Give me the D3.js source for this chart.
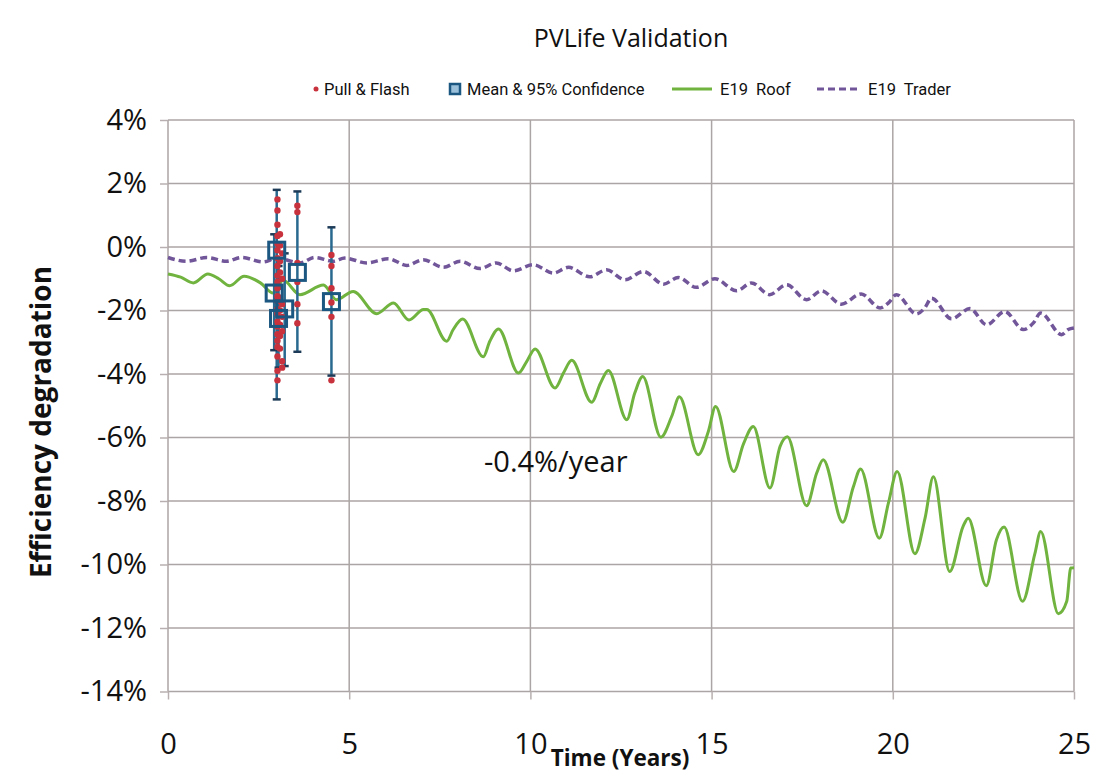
<!doctype html>
<html>
<head>
<meta charset="utf-8">
<title>PVLife Validation</title>
<script src="https://cdnjs.cloudflare.com/ajax/libs/d3/7.8.5/d3.min.js"></script>
<style>
  body { margin: 0; background: #fff; }
  svg { display: block; font-family: "Open Sans", "Noto Sans", sans-serif; }
  .grid line { stroke: #aca5a5; stroke-width: 1.5; }
  .axis path { display: none; }
  .axis line { stroke: #b8b0b0; stroke-width: 1.5; }
  .axis text { fill: #111; font-size: 29px; font-family: "Open Sans", "Noto Sans", sans-serif; }
  .legend text { font-family: Roboto, "Open Sans", sans-serif; font-size: 16.5px; fill: #111; }
</style>
</head>
<body>
<svg id="chart" width="1117" height="772"></svg>
<script>
// ---- data ----
var xTicks = [0, 5, 10, 15, 20, 25];
var yTicks = [4, 2, 0, -2, -4, -6, -8, -10, -12, -14];

// E19 Roof (green)
var roofT = [0, 0.35, 0.7, 1.1, 1.4, 1.7, 2.1, 2.55, 2.9, 3.18, 3.64, 4.29, 4.65, 5.11, 5.76, 6.22, 6.65, 7.05, 7.14,
  7.69, 7.87, 8.13, 8.7, 8.88, 9.12, 9.67, 9.9, 10.13, 10.68, 10.92, 11.14, 11.69, 11.93, 12.15, 12.66, 12.88, 13.1,
  13.6, 13.9, 14.11, 14.63, 14.91, 15.11, 15.61, 15.88, 16.15, 16.61, 16.89, 17.09, 17.62, 17.9, 18.08, 18.62, 18.91, 19.11,
  19.63, 19.88, 20.12, 20.61, 20.89, 21.12, 21.57, 21.94, 22.08, 22.58, 22.86, 23.07, 23.58, 23.92, 24.08, 24.57, 24.8, 24.91, 25];
var roofV = [-0.85, -0.95, -1.13, -0.85, -1.0, -1.22, -0.92, -1.13, -1.45, -1.05, -1.5, -1.2, -1.66, -1.4, -2.1, -1.76, -2.3, -1.97, -1.97,
  -2.97, -2.6, -2.27, -3.46, -2.97, -2.58, -3.97, -3.6, -3.21, -4.44, -3.95, -3.57, -4.89, -4.3, -3.89, -5.44, -4.6, -4.08,
  -5.99, -5.33, -4.72, -6.54, -5.81, -5.02, -7.07, -6.2, -5.65, -7.59, -6.28, -5.98, -8.15, -7.12, -6.7, -8.67, -7.56, -6.99,
  -9.17, -8.06, -7.07, -9.66, -8.54, -7.24, -10.22, -8.8, -8.54, -10.67, -9.22, -8.82, -11.16, -9.66, -8.96, -11.55, -11.16, -10.11, -10.1];

// E19 Trader (purple, dashed)
var traderT = [0, 0.51, 1.07, 1.62, 2.03, 2.63, 3.0, 3.64, 4.05, 4.56, 4.88, 5.48, 6.08, 6.59, 7.04, 7.6, 8.06, 8.61, 9.06, 9.53,
  10.08, 10.63, 11.05, 11.64, 12.1, 12.61, 13.12, 13.67, 14.08, 14.58, 15.09, 15.69, 16.1, 16.6, 17.07, 17.62, 18.03, 18.58,
  19.13, 19.65, 19.88, 20.1, 20.65, 20.88, 21.07, 21.62, 22.13, 22.59, 23.09, 23.6, 23.88, 24.08, 24.66, 24.84, 25];
var traderV = [-0.33, -0.45, -0.33, -0.45, -0.33, -0.47, -0.35, -0.5, -0.33, -0.45, -0.35, -0.5, -0.37, -0.58, -0.4, -0.64, -0.45, -0.68, -0.5, -0.75,
  -0.56, -0.82, -0.64, -0.94, -0.72, -1.03, -0.77, -1.17, -0.96, -1.27, -1.0, -1.38, -1.13, -1.5, -1.19, -1.66, -1.38, -1.8,
  -1.48, -1.92, -1.76, -1.5, -2.11, -1.92, -1.61, -2.26, -1.94, -2.45, -2.03, -2.6, -2.39, -2.08, -2.76, -2.6, -2.55];

// Pull & Flash measurements
var flashT = [3.02, 3.02, 3.02, 3.02, 3.02, 3.02, 3.02, 3.02, 3.02, 3.02, 3.02, 3.02, 3.02, 3.02, 3.02, 3.02, 3.02, 3.02, 3.02, 3.02, 3.02, 3.02, 3.02,
  3.09, 3.09, 3.09, 3.09, 3.09, 3.09, 3.09, 3.09, 3.09, 3.09,
  3.15, 3.15, 3.15, 3.15, 3.15, 3.15, 3.15,
  3.57, 3.57, 3.57, 3.57, 3.57, 3.57,
  4.51, 4.51, 4.51, 4.51, 4.51, 4.51];
var flashV = [1.5, 1.15, 0.7, 0.35, 0.1, -0.1, -0.35, -0.6, -0.9, -1.1, -1.3, -1.55, -1.7, -1.95, -2.1, -2.35, -2.5, -2.75, -2.95, -3.15, -3.45, -3.9, -4.2,
  0.4, 0.05, -0.45, -0.8, -1.25, -1.6, -2.0, -2.45, -2.8, -3.2,
  -0.2, -1.0, -1.8, -2.2, -2.65, -3.6, -3.8,
  1.3, 1.1, -0.5, -1.1, -1.8, -2.4,
  -0.25, -0.6, -1.3, -1.75, -2.2, -4.2];

// Mean & 95% confidence
var meanT = [3.0, 2.93, 3.05, 3.22, 3.57, 4.51];
var meanV = [-0.1, -1.45, -2.25, -1.95, -0.8, -1.72];
var ciLow = [-4.8, -3.25, -3.8, -3.75, -3.3, -4.05];
var ciHigh = [1.8, 0.4, -0.6, -0.2, 1.75, 0.62];

// ---- chart ----
var svg = d3.select("#chart");
var x = d3.scaleLinear().domain([0, 25]).range([168, 1074]);
var y = d3.scaleLinear().domain([-14, 4]).range([691.5, 120]);

// grid
svg.append("g").attr("class", "grid")
  .selectAll("line").data(yTicks).enter().append("line")
  .attr("x1", x(0)).attr("x2", x(25))
  .attr("y1", function(d) { return y(d); }).attr("y2", function(d) { return y(d); });
svg.append("g").attr("class", "grid")
  .selectAll("line").data(xTicks).enter().append("line")
  .attr("x1", function(d) { return x(d); }).attr("x2", function(d) { return x(d); })
  .attr("y1", y(4)).attr("y2", y(-14));

// axes
svg.append("g").attr("class", "axis")
  .attr("transform", "translate(" + x(0) + ",0)")
  .call(d3.axisLeft(y).tickValues(yTicks).tickSize(8).tickPadding(13)
    .tickFormat(function(d) { return d + "%"; }));
svg.append("g").attr("class", "axis")
  .attr("transform", "translate(0," + y(-14) + ")")
  .call(d3.axisBottom(x).tickValues(xTicks).tickSize(8).tickPadding(34));

// lines
var line = d3.line().curve(d3.curveMonotoneX)
  .x(function(d) { return x(d[0]); })
  .y(function(d) { return y(d[1]); });

svg.append("path")
  .attr("d", line(d3.zip(traderT, traderV)))
  .attr("fill", "none").attr("stroke", "#72569a")
  .attr("stroke-width", 3.5).attr("stroke-dasharray", "7,4");

svg.append("path")
  .attr("d", line(d3.zip(roofT, roofV)))
  .attr("fill", "none").attr("stroke", "#71b33f")
  .attr("stroke-width", 3);

// confidence bars
var ci = svg.append("g");
meanT.forEach(function(t, i) {
  ci.append("line")
    .attr("x1", x(t)).attr("x2", x(t))
    .attr("y1", y(ciHigh[i])).attr("y2", y(ciLow[i]))
    .attr("stroke", "#29698f").attr("stroke-width", 2.5);
  [ciHigh[i], ciLow[i]].forEach(function(v) {
    ci.append("line")
      .attr("x1", x(t) - 4).attr("x2", x(t) + 4)
      .attr("y1", y(v)).attr("y2", y(v))
      .attr("stroke", "#1d3b57").attr("stroke-width", 2.5);
  });
});

// pull & flash dots
svg.append("g").selectAll("circle")
  .data(d3.zip(flashT, flashV)).enter().append("circle")
  .attr("cx", function(d) { return x(d[0]); })
  .attr("cy", function(d) { return y(d[1]); })
  .attr("r", 3.2).attr("fill", "#c8323c");

// mean squares
svg.append("g").selectAll("rect")
  .data(d3.zip(meanT, meanV)).enter().append("rect")
  .attr("x", function(d) { return x(d[0]) - 8; })
  .attr("y", function(d) { return y(d[1]) - 8; })
  .attr("width", 16).attr("height", 16)
  .attr("fill", "none").attr("stroke", "#1b5780").attr("stroke-width", 3);

// annotation
svg.append("text")
  .attr("x", 484).attr("y", 472)
  .attr("font-size", 29).attr("fill", "#111")
  .text("-0.4%/year");

// titles
svg.append("text")
  .attr("x", 631).attr("y", 47)
  .attr("text-anchor", "middle").attr("font-size", 25).attr("fill", "#111")
  .text("PVLife Validation");

svg.append("text")
  .attr("x", 620).attr("y", 766)
  .attr("text-anchor", "middle").attr("font-size", 22.5).attr("font-weight", "bold").attr("fill", "#111")
  .text("Time (Years)");

svg.append("text")
  .attr("transform", "translate(51,422) rotate(-90)")
  .attr("text-anchor", "middle").attr("font-size", 28).attr("font-weight", "bold").attr("fill", "#111")
  .text("Efficiency degradation");

// legend
var lg = svg.append("g").attr("class", "legend");
var ly = 89;
lg.append("circle").attr("cx", 316).attr("cy", ly).attr("r", 2.5).attr("fill", "#c8323c");
lg.append("text").attr("x", 324).attr("y", ly + 6).text("Pull & Flash");
lg.append("rect").attr("x", 450).attr("y", ly - 5).attr("width", 10).attr("height", 10)
  .attr("fill", "#9bc0da").attr("stroke", "#1b5780").attr("stroke-width", 2.5);
lg.append("text").attr("x", 467).attr("y", ly + 6).text("Mean & 95% Confidence");
lg.append("line").attr("x1", 672).attr("x2", 712).attr("y1", ly).attr("y2", ly)
  .attr("stroke", "#71b33f").attr("stroke-width", 3);
lg.append("text").attr("x", 720).attr("y", ly + 6).attr("xml:space", "preserve").text("E19  Roof");
lg.append("line").attr("x1", 817).attr("x2", 861).attr("y1", ly).attr("y2", ly)
  .attr("stroke", "#72569a").attr("stroke-width", 3).attr("stroke-dasharray", "7,4");
lg.append("text").attr("x", 868).attr("y", ly + 6).attr("xml:space", "preserve").text("E19  Trader");
</script>
</body>
</html>
